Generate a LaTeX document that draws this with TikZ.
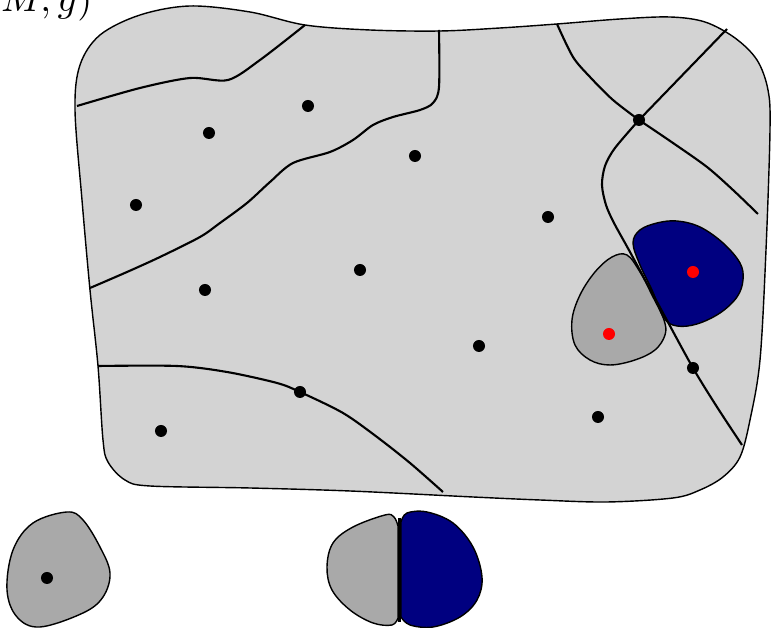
\documentclass[tikz,border=0pt]{standalone}
\usepackage{tikz}
\definecolor{regionfill}{HTML}{D3D3D3}
\definecolor{cellgray}{HTML}{A9A9A9}
\definecolor{cellblue}{HTML}{000080}
\tikzset{
  region/.style={fill=regionfill, draw=black, line width=0.4pt},
  wall/.style={draw=black, line width=0.6pt},
  graycell/.style={fill=cellgray, draw=black, line width=0.4pt},
  bluecell/.style={fill=cellblue, draw=black, line width=0.4pt},
  pt/.style={circle, fill=black, inner sep=0pt, minimum size=0.12cm},
  redpt/.style={circle, fill=red, inner sep=0pt, minimum size=0.12cm},
}
\begin{document}
\begin{tikzpicture}[x=0.01cm, y=-0.01cm]
\useasboundingbox (0,0) rectangle (772,628);

% label
\node[anchor=base east, inner sep=0pt, font=\fontsize{11}{13}\selectfont] (label) at (93,12) {$(M,g)$};

% main region
\path[region] plot[smooth cycle, tension=0.55] coordinates {
  (75,110) (80,65) (100,35) (140,15) (190,6) (250,12) (305,25) (370,30) (440,31)
  (500,28) (557,24) (620,19) (670,17) (705,22) (735,38) (757,60) (768,90)
  (770,130) (766,250) (760,360) (750,420) (740,457) (723,477) (700,490) (673,498)
  (607,502) (540,500) (473,497) (350,491) (250,488) (150,486)
  (125,480) (108,462) (103,440) (98,366) (90,290) (82,200)
};

% internal walls
\draw[wall] plot[smooth] coordinates {(77,106) (140,88) (190,78) (228,80) (260,60) (305,25)};
\draw[wall] plot[smooth] coordinates {(439,30) (439,87) (433,103) (420,110) (393,117) (373,125) (353,140) (330,152) (293,163) (270,182) (247,203) (220,223) (200,237) (160,257) (127,272) (90,288)};
\draw[wall] plot[smooth] coordinates {(98,366) (177,366) (227,372) (277,383) (300,392) (343,413) (377,437) (410,463) (443,492)};
\draw[wall] plot[smooth] coordinates {(557,24) (573,57) (590,77) (613,100) (639,120)};
\coordinate (ecorner) at (727,29);
\coordinate (fend) at (758,214);
\coordinate (gend) at (742,445);
\draw[wall] (639,120) -- (ecorner);
\draw[wall] plot[smooth] coordinates {(639,120) (673,143) (707,167) (733,190) (758,214)};

% cells in the region
\path[graycell] plot[smooth cycle, tension=0.6] coordinates {
  (627,255) (612,257) (595,272) (580,295) (572,320) (575,345) (590,360) (610,365)
  (635,360) (655,350) (665,335) (664,320) (652,295) (640,272)
};
\path[bluecell] plot[smooth cycle, tension=0.6] coordinates {
  (633,243) (640,230) (657,223) (677,221) (700,227) (723,243) (740,263) (743,280)
  (737,297) (720,313) (697,324) (677,326) (664,318) (652,290) (640,265)
};

\draw[wall] plot[smooth] coordinates {(639,120) (615,148) (605,166) (602,185) (606,205) (614,223) (630,252) (663,313) (693,368) (717,407) (742,445)};

% points
\node[pt] (p1) at (308,106) {};
\node[pt] (p2) at (209,133) {};
\node[pt] (p3) at (415,156) {};
\node[pt] (p4) at (136,205) {};
\node[pt] (p5) at (548,217) {};
\node[pt] (p6) at (360,270) {};
\node[pt] (p7) at (205,290) {};
\node[pt] (p8) at (479,346) {};
\node[pt] (p9) at (161,431) {};
\node[pt] (p10) at (598,417) {};
\node[pt] (p11) at (300,392) {};
\node[pt] (p12) at (693,368) {};
\node[pt] (p13) at (639,120) {};
\node[redpt] (r1) at (693,272) {};
\node[redpt] (r2) at (609,334) {};

% bottom-left cell
\path[graycell] plot[smooth cycle, tension=0.6] coordinates {
  (7,590) (13,550) (33,523) (67,512) (83,520) (100,547) (110,573) (103,597)
  (83,613) (40,627) (17,617)
};
\node[pt] (p14) at (47,578) {};

% bottom-middle pair
\path[graycell] plot[smooth, tension=0.6] coordinates {
  (398,526) (394,517) (385,515) (353,527) (333,543) (327,567) (332,590) (350,610) (373,623) (392,625) (398,618)
} -- cycle;
\path[bluecell] plot[smooth, tension=0.6] coordinates {
  (401,617) (410,625) (433,627) (460,617) (477,600) (482,577) (473,547) (453,523) (427,512) (407,513) (401,522)
} -- cycle;
\coordinate (mtop) at (399.5,518);
\coordinate (mbot) at (399.5,622);
\draw[line width=0.9pt] (mtop) -- (mbot);
\end{tikzpicture}
\end{document}
